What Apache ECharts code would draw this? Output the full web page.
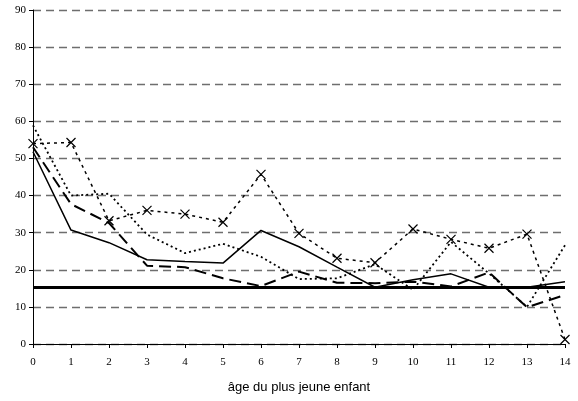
<!DOCTYPE html>
<html>
<head>
<meta charset="utf-8">
<script src="https://cdn.jsdelivr.net/npm/echarts/dist/echarts.min.js"></script>
<style>html,body{margin:0;padding:0;background:#fff}#c{width:578px;height:401px}</style>
</head>
<body>
<div id="c"></div>
<script>
const ages = ['0','1','2','3','4','5','6','7','8','9','10','11','12','13','14'];
const yTicks = [0,10,20,30,40,50,60,70,80,90];
const solidThin = [51.8, 30.7, 27.3, 22.7, 22.2, 21.8, 30.6, 26.2, 20.7, 15.3, 17.3, 18.9, 15.3, 15.3, 16.8];
const thickRef = [15.2, 15.2, 15.2, 15.2, 15.2, 15.2, 15.2, 15.2, 15.2, 15.2, 15.2, 15.2, 15.2, 15.2, 15.2];
const longDash = [53, 37.7, 32.6, 21.1, 20.7, 17.7, 15.6, 19.5, 16.5, 16.4, 16.8, 15.5, 19.3, 9.9, 13.2];
const fineDot = [58.9, 40.0, 40.5, 29.5, 24.5, 27.0, 23.5, 17.5, 17.7, 21.5, 14.6, 27.5, 19.0, 10.0, 26.6];
const crossed = [54.0, 54.3, 33.2, 36.0, 35.0, 32.8, 45.7, 29.8, 23.1, 21.9, 31.0, 28.2, 25.8, 29.6, 1.2];

const chart = echarts.init(document.getElementById('c'), null, {renderer: 'canvas'});
function line(data, width, dash, extra) {
  return Object.assign({
    type: 'line', data: data, symbol: 'none', animation: false, silent: true,
    lineStyle: {color: '#000', width: width, type: dash}
  }, extra || {});
}
chart.setOption({
  animation: false,
  grid: {left: 33, right: 13, top: 10, bottom: 57},
  xAxis: {
    type: 'category', data: ages, boundaryGap: false,
    name: 'âge du plus jeune enfant', nameLocation: 'middle', nameGap: 37,
    nameTextStyle: {fontFamily: 'Liberation Sans', fontSize: 13, color: '#000'},
    axisLine: {lineStyle: {color: '#000', width: 1}},
    axisTick: {show: true, length: 4, lineStyle: {color: '#000'}},
    axisLabel: {fontFamily: 'Liberation Serif', fontSize: 11, color: '#000', margin: 13},
    splitLine: {show: false}
  },
  yAxis: {
    type: 'value', min: yTicks[0], max: yTicks[yTicks.length - 1], interval: 10,
    axisLine: {show: true, lineStyle: {color: '#000', width: 1}},
    axisTick: {show: true, length: 4, lineStyle: {color: '#000'}},
    axisLabel: {fontFamily: 'Liberation Serif', fontSize: 11, color: '#000', margin: 7},
    splitLine: {show: true, lineStyle: {color: '#6e6e6e', width: 1.3, type: [8, 5]}}
  },
  series: [
    line(thickRef, 3, 'solid'),
    line(solidThin, 1.5, 'solid'),
    line(longDash, 2, [12, 6]),
    line(fineDot, 1.8, [2, 3]),
    line(crossed, 1.5, [3, 4], {
      symbol: 'path://M0,0L10,10M10,0L0,10', symbolSize: 9, showSymbol: true,
      itemStyle: {color: 'none', borderColor: '#000', borderWidth: 1.2}
    })
  ]
});
</script>
</body>
</html>
